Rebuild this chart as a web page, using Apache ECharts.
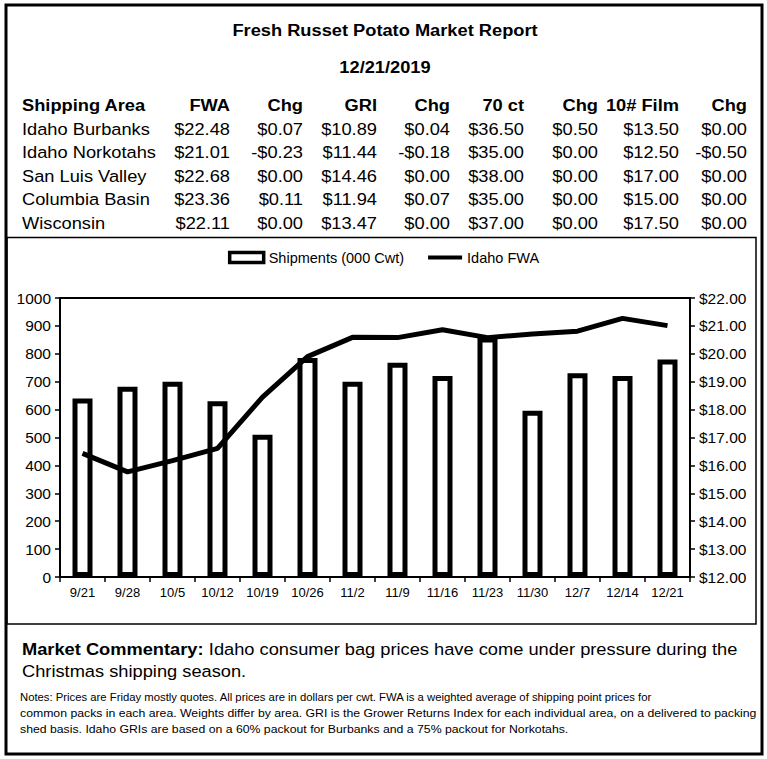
<!DOCTYPE html>
<html>
<head>
<meta charset="utf-8">
<script src="https://cdn.jsdelivr.net/npm/echarts@6/dist/echarts.min.js"></script>
<style>
html,body{margin:0;padding:0;background:#fff;}
#chart{width:767px;height:759px;}
</style>
</head>
<body>
<div id="chart"></div>
<script>
// ---- Chart data ----
var categories = ['9/21','9/28','10/5','10/12','10/19','10/26','11/2','11/9','11/16','11/23','11/30','12/7','12/14','12/21'];
var shipments = [640, 682, 700, 630, 510, 785, 700, 768, 720, 858, 596, 730, 720, 780];
var idahoFwa = [16.43, 15.77, 16.17, 16.61, 18.45, 19.90, 20.59, 20.58, 20.86, 20.58, 20.71, 20.81, 21.27, 21.01];
var leftTicks = {min: 0, max: 1000, interval: 100};
var rightTicks = {min: 12, max: 22, interval: 1};

// ---- Table data ----
var tableHeaders = ['Shipping Area', 'FWA', 'Chg', 'GRI', 'Chg', '70 ct', 'Chg', '10# Film', 'Chg'];
var areas = ['Idaho Burbanks', 'Idaho Norkotahs', 'San Luis Valley', 'Columbia Basin', 'Wisconsin'];
var fwa = ['$22.48', '$21.01', '$22.68', '$23.36', '$22.11'];
var fwaChg = ['$0.07', '-$0.23', '$0.00', '$0.11', '$0.00'];
var gri = ['$10.89', '$11.44', '$14.46', '$11.94', '$13.47'];
var griChg = ['$0.04', '-$0.18', '$0.00', '$0.07', '$0.00'];
var ct70 = ['$36.50', '$35.00', '$38.00', '$35.00', '$37.00'];
var ct70Chg = ['$0.50', '$0.00', '$0.00', '$0.00', '$0.00'];
var film = ['$13.50', '$12.50', '$17.00', '$15.00', '$17.50'];
var filmChg = ['$0.00', '-$0.50', '$0.00', '$0.00', '$0.00'];

var titleText = 'Fresh Russet Potato Market Report';
var dateText = '12/21/2019';
var commentaryLabel = 'Market Commentary:';
var commentaryLines = [' Idaho consumer bag prices have come under pressure during the', 'Christmas shipping season.'];
var notesLines = [
  'Notes: Prices are Friday mostly quotes. All prices are in dollars per cwt. FWA is a weighted average of shipping point prices for',
  'common packs in each area. Weights differ by area. GRI is the Grower Returns Index for each individual area, on a delivered to packing',
  'shed basis. Idaho GRIs are based on a 60% packout for Burbanks and a 75% packout for Norkotahs.'
];

// ---- Layout ----
var FF = '"Liberation Sans", Arial, sans-serif';
var SX = 1.075;
var colRight = [null, 230, 303, 377, 450, 524, 598, 679, 747];
var rowY = [129, 152, 176, 199, 223];
var headerY = 105;

var graphics = [];
graphics.push({type:'rect', shape:{x:6, y:5, width:756, height:749}, style:{fill:'none', stroke:'#000', lineWidth:3}, z:100});
graphics.push({type:'rect', shape:{x:7, y:237.5, width:749, height:386.5}, style:{fill:'none', stroke:'#000', lineWidth:1.5}, z:100});

function txt(text, x, y, opts) {
  opts = opts || {};
  return {
    type: 'text', x: x, y: y, z: 100,
    scaleX: opts.sx || SX,
    style: {
      text: text, fill: '#000',
      fontFamily: FF,
      fontSize: opts.size || 17,
      fontWeight: opts.bold ? 'bold' : 'normal',
      align: opts.align || 'left',
      verticalAlign: 'middle',
      rich: opts.rich
    }
  };
}

graphics.push(txt(titleText, 385, 30, {bold:true, align:'center'}));
graphics.push(txt(dateText, 385, 67, {bold:true, align:'center'}));

// header
graphics.push(txt(tableHeaders[0], 22, headerY, {bold:true}));
for (var c = 1; c < tableHeaders.length; c++) {
  graphics.push(txt(tableHeaders[c], colRight[c], headerY, {bold:true, align:'right'}));
}
var cols = [fwa, fwaChg, gri, griChg, ct70, ct70Chg, film, filmChg];
for (var r = 0; r < areas.length; r++) {
  graphics.push(txt(areas[r], 22, rowY[r]));
  for (var k = 0; k < cols.length; k++) {
    graphics.push(txt(cols[k][r], colRight[k + 1], rowY[r], {align:'right'}));
  }
}

// commentary
graphics.push({
  type:'text', x:22, y:649, z:100, scaleX: SX,
  style:{
    text:'{b|' + commentaryLabel + '}' + commentaryLines[0],
    fill:'#000', fontFamily:FF, fontSize:17, verticalAlign:'middle', align:'left',
    rich:{b:{fontWeight:'bold', fontFamily:FF, fontSize:17, fill:'#000'}}
  }
});
graphics.push(txt(commentaryLines[1], 22, 671));
var notesY = [697, 713, 729];
var notesSX = [1.0, 1.085, 1.085];
for (var n = 0; n < notesLines.length; n++) {
  graphics.push(txt(notesLines[n], 20, notesY[n], {size:11.3, sx:notesSX[n]}));
}

var lineIcon = 'path://M0,0 M0,10 M0,3 L34,3 L34,7 L0,7 Z';

var chart = echarts.init(document.getElementById('chart'), null, {renderer:'svg'});
chart.setOption({
  backgroundColor: '#fff',
  animation: false,
  textStyle: {fontFamily: FF, color: '#000'},
  legend: {
    top: 245, left: 'center',
    itemWidth: 34, itemHeight: 10, itemGap: 24,
    textStyle: {fontSize: 14.5, color: '#000', fontFamily: FF},
    data: [
      {name: 'Shipments (000 Cwt)', icon: 'rect', itemStyle: {color:'#fff', borderColor:'#000', borderWidth:3.5}},
      {name: 'Idaho FWA', icon: lineIcon, itemStyle: {color:'#000', borderWidth:0}}
    ]
  },
  grid: {left: 60, right: 77, top: 298, bottom: 182, show: true, borderColor: '#000', borderWidth: 2, backgroundColor: 'transparent'},
  xAxis: {
    type: 'category', data: categories,
    axisLine: {lineStyle: {color: '#000', width: 2}},
    axisTick: {show: true, length: 5, lineStyle: {color: '#000', width: 1.5}},
    axisLabel: {color: '#000', fontSize: 13, margin: 9, interval: 0, fontFamily: FF}
  },
  yAxis: [
    {
      type: 'value', min: leftTicks.min, max: leftTicks.max, interval: leftTicks.interval,
      position: 'left',
      splitLine: {show: false},
      axisLine: {show: true, lineStyle: {color: '#000', width: 2}},
      axisTick: {show: true, length: 5, lineStyle: {color: '#000', width: 1.5}},
      axisLabel: {color: '#000', fontSize: 15.5, margin: 9, fontFamily: FF, formatter: function (v) { return String(v); }}
    },
    {
      type: 'value', min: rightTicks.min, max: rightTicks.max, interval: rightTicks.interval,
      position: 'right',
      splitLine: {show: false},
      axisLine: {show: true, lineStyle: {color: '#000', width: 2}},
      axisTick: {show: true, length: 5, lineStyle: {color: '#000', width: 1.5}},
      axisLabel: {color: '#000', fontSize: 15.5, margin: 9, fontFamily: FF, formatter: function (v) { return '$' + v.toFixed(2); }}
    }
  ],
  series: [
    {
      name: 'Shipments (000 Cwt)', type: 'bar', yAxisIndex: 0, data: shipments,
      barWidth: 20,
      itemStyle: {color: '#fff', borderColor: '#000', borderWidth: 5},
      z: 2
    },
    {
      name: 'Idaho FWA', type: 'line', yAxisIndex: 1, data: idahoFwa,
      symbol: 'none', lineStyle: {color: '#000', width: 5}, itemStyle: {color: '#000'},
      z: 3
    }
  ],
  graphic: graphics
});
</script>
</body>
</html>
